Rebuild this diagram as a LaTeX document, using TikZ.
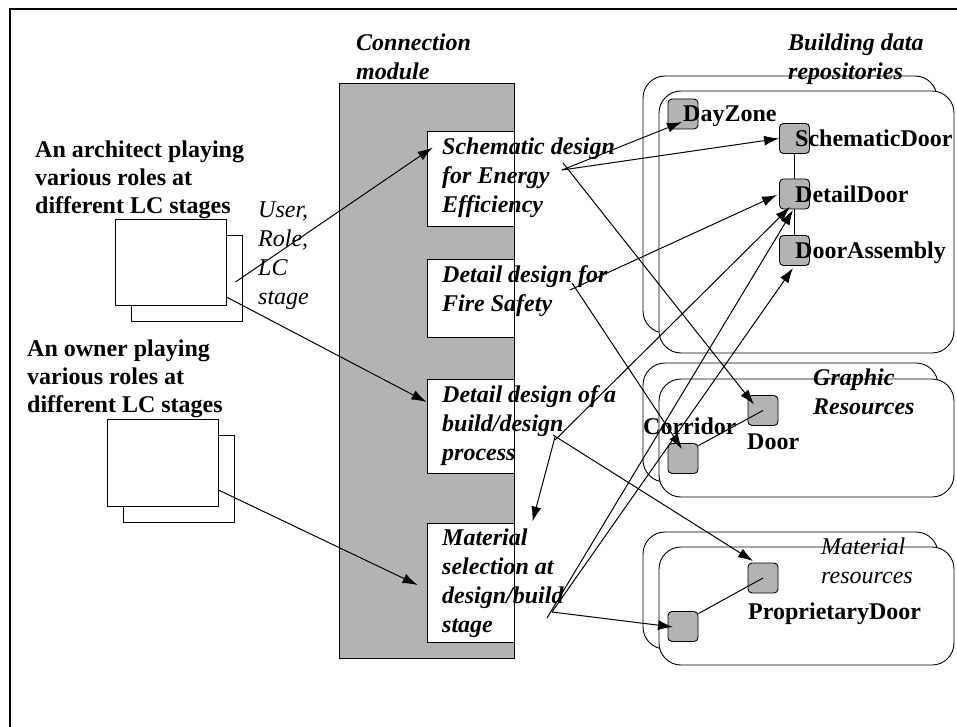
\documentclass[tikz,border=0pt]{standalone}
\usepackage{fontspec}
\setmainfont{Liberation Serif}
\usetikzlibrary{arrows.meta,calc}
\definecolor{modgray}{HTML}{B3B3B3}
\begin{document}
\begin{tikzpicture}[x=1pt,y=-1pt,
  lbl/.style={inner sep=0pt, anchor=north west, align=left},
  bt/.style={lbl, font=\fontsize{24}{28}\selectfont\bfseries},
  bit/.style={lbl, font=\fontsize{24}{29}\selectfont\bfseries\itshape},
  it/.style={lbl, font=\fontsize{24}{29}\selectfont\itshape},
  sq/.style={draw, fill=modgray, rounded corners=4pt, minimum size=30pt, inner sep=0pt, line width=0.9pt},
  box/.style={draw, fill=white, line width=0.9pt, inner sep=0pt},
  repo/.style={box, rounded corners=22pt},
  arr/.style={-{Latex[length=15pt,width=10pt]}, line width=1pt},
  ln/.style={line width=1pt}
]
\useasboundingbox (0,0) rectangle (957,727);
% frame
\draw[line width=2.2pt] (10,9) rectangle (965,735);

% user stacks
\node[box, minimum width=111pt, minimum height=86pt] (archB) at (186.5,278) {};
\node[box, minimum width=111pt, minimum height=86pt] (archF) at (170.5,262) {};
\node[box, minimum width=111pt, minimum height=87pt] (ownB) at (178.5,478.5) {};
\node[box, minimum width=111pt, minimum height=87pt] (ownF) at (162.5,462.5) {};

% connection module
\node[draw, fill=modgray, line width=0.9pt, inner sep=0pt, minimum width=175pt, minimum height=575pt] (module) at (426.5,370.5) {};
\node[box, minimum width=87pt, minimum height=95pt] (b1) at (470.5,178.5) {};
\node[box, minimum width=87pt, minimum height=78pt] (b2) at (470.5,298) {};
\node[box, minimum width=87pt, minimum height=94pt] (b3) at (470.5,426) {};
\node[box, minimum width=87pt, minimum height=119pt] (b4) at (470.5,582.5) {};

% repositories
\node[repo, minimum width=294pt, minimum height=257pt] (repoB) at (790,204.5) {};
\node[repo, minimum width=295pt, minimum height=262pt] (repoF) at (806.5,222) {};
\node[repo, minimum width=295pt, minimum height=119pt] (gB) at (790.5,422.5) {};
\node[repo, minimum width=295pt, minimum height=118pt] (gF) at (806.5,438) {};
\node[repo, minimum width=295pt, minimum height=117pt] (mB) at (790.5,590.5) {};
\node[repo, minimum width=295pt, minimum height=118pt] (mF) at (806.5,606) {};

% squares
\node[sq] (dz) at (683,114) {};
\node[sq] (sd) at (794.5,138.5) {};
\node[sq] (dd) at (794.5,194) {};
\node[sq] (da) at (794.5,250.5) {};
\node[sq] (door) at (763,410.5) {};
\node[sq] (corr) at (683,458.5) {};
\node[sq] (pd) at (763,578) {};
\node[sq] (ms) at (683,626.5) {};

% plain links
\draw[ln] (sd.south) -- (dd.north);
\draw[ln] (dd.south) -- (da.north);
\draw[ln] ($(corr.north east)+(0,2.5)$) -- (door.center);
\draw[ln] ($(ms.north east)+(0,2.5)$) -- (pd.center);

% free ends inside the module boxes
\coordinate (s1) at (562,170);
\coordinate (s1b) at (563,163);
\coordinate (s2) at (570,290);
\coordinate (s2b) at (572,283);
\coordinate (s3a) at (553,435);
\coordinate (s3b) at (555,440);
\coordinate (s3c) at (555,437);
\coordinate (s4a) at (547,618);
\coordinate (s4b) at (552,612);

% arrows from users
\draw[arr] ($(archF.east)+(9,20)$) -- ($(b1.north west)+(6,17)$);
\draw[arr] ($(archF.east)+(0,35)$) -- ($(b3.west)+(0,-24)$);
\draw[arr] ($(ownF.east)+(0,27.5)$) -- ($(b4.west)+(-9,2.5)$);

% arrows from module
\draw[arr] (s1) -- ($(dz.center)+(-1,8)$);
\draw[arr] (s1) -- (sd.west);
\draw[arr] (s1b) -- ($(door.center)+(-9,-6)$);
\draw[arr] (s2) -- ($(dd.west)+(-2,1)$);
\draw[arr] (s2b) -- ($(corr.center)+(-1,-9.5)$);
\draw[arr] (s3a) -- ($(pd.center)+(-10,-17)$);
\draw[arr] (s3b) -- ($(dd.center)+(-4.5,13)$);
\draw[arr] (s3c) -- ($(b4.north east)+(18,-1)$);
\draw[arr] (s4a) -- ($(dd.center)+(-1.5,16)$);
\draw[arr] (s4b) -- ($(da.center)+(-1.5,17.5)$);
\draw[arr] (s4b) -- ($(ms.center)+(-10,0.5)$);

% texts
\node[bt] (archT) at (35,140.5) {An architect playing\\various roles at\\different LC stages};
\node[bt] (ownT) at (27,339.5) {An owner playing\\various roles at\\different LC stages};
\node[it] (userT) at (258,201.5) {User,\\Role,\\LC\\stage};
\node[bit] (connT) at (356,33.5) {Connection\\module};
\node[bit] (t1) at (442,137.5) {Schematic design\\for Energy\\Efficiency};
\node[bit] (t2) at (442,265.5) {Detail design for\\Fire Safety};
\node[bit] (t3) at (442,385.5) {Detail design of a\\build/design\\process};
\node[bit] (t4) at (442,528.5) {Material\\selection at\\design/build\\stage};
\node[bit] (bdrT) at (788,33.5) {Building data\\repositories};
\node[bt] (dzT) at (683,105.5) {DayZone};
\node[bt] (sdT) at (795,129.5) {SchematicDoor};
\node[bt] (ddT) at (795,185.5) {DetailDoor};
\node[bt] (daT) at (795,241.5) {DoorAssembly};
\node[bit] (grT) at (813,368.5) {Graphic\\Resources};
\node[bt] (corrT) at (643,417.5) {Corridor};
\node[bt] (doorT) at (747,433.5) {Door};
\node[it] (mrT) at (821,537.5) {Material\\resources};
\node[bt] (pdT) at (748,602.5) {ProprietaryDoor};
\end{tikzpicture}
\end{document}
